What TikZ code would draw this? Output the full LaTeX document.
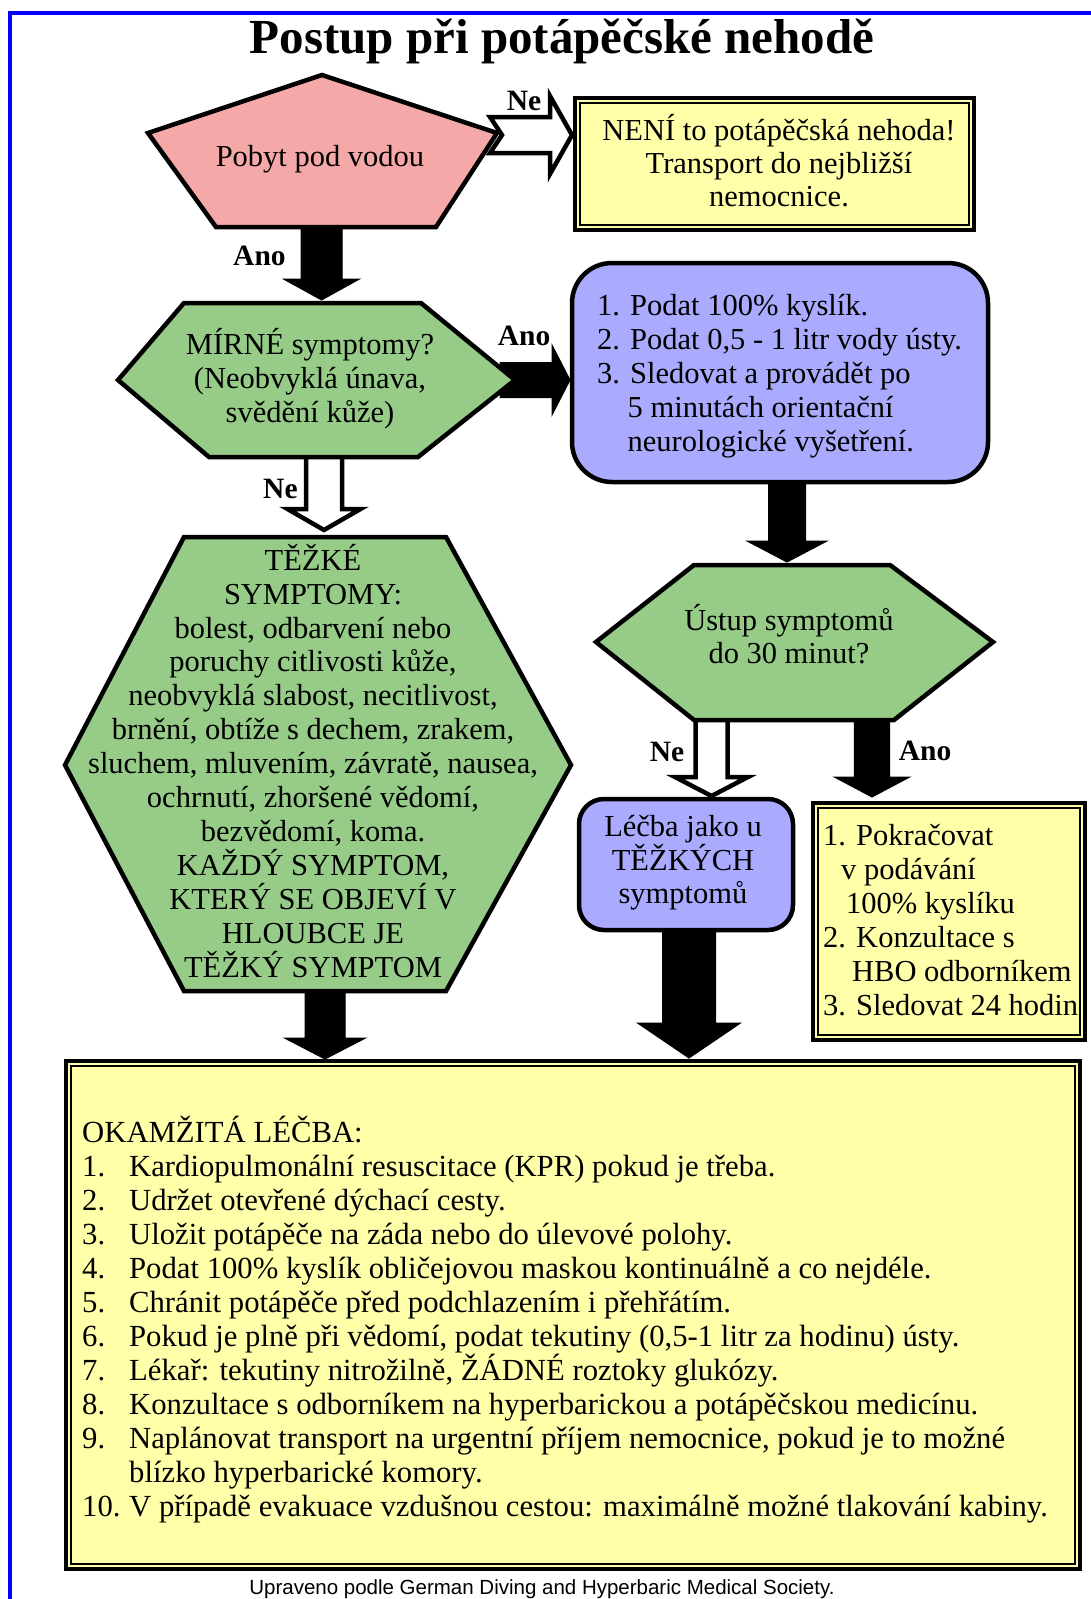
\documentclass[tikz,border=0pt]{standalone}
\usepackage{fontspec}
\setmainfont{Liberation Serif}
\newfontfamily\footfont{Liberation Sans}
\usetikzlibrary{calc}
\definecolor{pinkfill}{RGB}{245,168,168}
\definecolor{greenfill}{RGB}{150,204,135}
\definecolor{lavfill}{RGB}{170,170,255}
\definecolor{yelfill}{RGB}{255,255,170}
\definecolor{framblue}{RGB}{0,0,255}
% vertical block arrow: style, start (y of shaft top), end (tip), shaft half, head half, head length
\newcommand\vblock[6]{\path[#1] let \p1=(#2), \p2=(#3) in (\x2-#4,\y1) -- (\x2+#4,\y1) -- (\x2+#4,\y2+#6) -- (\x2+#5,\y2+#6) -- (\x2,\y2) -- (\x2-#5,\y2+#6) -- (\x2-#4,\y2+#6) -- cycle;}
% horizontal block arrow: style, start (x of tail), end (tip), shaft half, head half, head length, notch
\newcommand\hblock[7]{\path[#1] let \p1=(#2), \p2=(#3) in (\x1,\y2+#4) -- (\x2-#6,\y2+#4) -- (\x2-#6,\y2+#5) -- (\x2,\y2) -- (\x2-#6,\y2-#5) -- (\x2-#6,\y2-#4) -- (\x1,\y2-#4) -- (\x1+#7,\y2) -- cycle;}
\newcommand\yelbox[2]{\fill[yelfill] (#1) rectangle (#2);
  \draw[line width=4pt] (#1) rectangle (#2);
  \draw[line width=1.3pt] ($(#1)+(5pt,-5pt)$) rectangle ($(#2)+(-5pt,5pt)$);}
\newcommand\tp{\rule{0pt}{28pt}}
\begin{document}
\begin{tikzpicture}[x=1pt,y=-1pt,
  body/.style={font=\fontsize{30.5}{34}\selectfont, inner sep=0pt},
  lbl/.style={font=\bfseries\fontsize{29.5}{34}\selectfont, inner sep=0pt, anchor=base west},
  outline/.style={draw=black, line width=4.5pt, line join=miter},
  solidarrow/.style={fill=black, draw=black, line width=1pt, line join=miter},
  hollowarrow/.style={fill=white, draw=black, line width=4.5pt, line join=miter},
]
\useasboundingbox (0,0) rectangle (1091,1599);
\fill[white] (0,0) rectangle (1091,1599);
\fill[framblue] (8,11) rectangle (1091,15);
\fill[framblue] (8,11) rectangle (12,1599);

% connector end points
\coordinate (neTail) at (490,135);   \coordinate (neTip) at (572,135);
\coordinate (anoAStart) at (321.5,220); \coordinate (anoATip) at (321.5,300);
\coordinate (anoBTail) at (500,380); \coordinate (anoBTip) at (570,380);
\coordinate (neBStart) at (324,452); \coordinate (neBTip) at (324,530);
\coordinate (downCStart) at (787,478); \coordinate (downCTip) at (787,562);
\coordinate (neDStart) at (711.5,715); \coordinate (neDTip) at (711.5,796);
\coordinate (anoEStart) at (872,715); \coordinate (anoETip) at (872,797);
\coordinate (downFStart) at (325,985); \coordinate (downFTip) at (325,1059);
\coordinate (downGStart) at (689,925); \coordinate (downGTip) at (689,1058);

% connectors (block arrows)
\hblock{hollowarrow}{neTail}{neTip}{18pt}{39pt}{22pt}{12pt}
\vblock{solidarrow}{anoAStart}{anoATip}{20.5pt}{38pt}{21pt}
\hblock{solidarrow}{anoBTail}{anoBTip}{17.5pt}{35pt}{18pt}{0pt}
\vblock{hollowarrow}{neBStart}{neBTip}{18pt}{36.5pt}{21pt}
\vblock{solidarrow}{downCStart}{downCTip}{18.5pt}{40pt}{21pt}
\vblock{hollowarrow}{neDStart}{neDTip}{16pt}{36.5pt}{19pt}
\vblock{solidarrow}{anoEStart}{anoETip}{17.7pt}{37.7pt}{20pt}
\vblock{solidarrow}{downFStart}{downFTip}{20pt}{40.5pt}{21pt}
\vblock{solidarrow}{downGStart}{downGTip}{26.5pt}{51.5pt}{35pt}

% shapes
\path[outline, fill=pinkfill] (322,75) -- (497,133) -- (436,227) -- (216,227) -- (148,133) -- cycle;
\path[outline, fill=greenfill] (184,303) -- (421,303) -- (515,380) -- (418,457) -- (209,457) -- (118,380) -- cycle;
\path[outline, fill=greenfill] (184,537) -- (446,537) -- (571,765) -- (446,991) -- (184,991) -- (65,765) -- cycle;
\path[outline, fill=greenfill] (694,565) -- (890,565) -- (993,642) -- (894,720) -- (694,720) -- (596,642) -- cycle;
\path[outline, fill=lavfill, rounded corners=40pt] (572,263) rectangle (988,482);
\path[outline, fill=lavfill, rounded corners=25pt] (579,799) rectangle (793,930);
\yelbox{575,98}{974,230}
\yelbox{813,803}{1085,1040}
\yelbox{66,1061}{1080,1569}

% title
\node[font=\bfseries\fontsize{49}{55}\selectfont, anchor=base, inner sep=0pt] (title) at (562,53) {Postup při potápěčské nehodě};

% texts
\node[body, anchor=base] (pobyt) at (320,166.7) {Pobyt pod vodou};
\node[body, anchor=north, align=center, font=\fontsize{30.5}{33.3}\selectfont] (neni) at (779,112) {\tp NENÍ to potápěčská nehoda!\\Transport do nejbližší\\nemocnice.};
\node[body, anchor=north west, align=left] (kyslik) at (597,287) {\tp 1. Podat 100\% kyslík.\\2. Podat 0,5 - 1 litr vody ústy.\\3. Sledovat a provádět po\\\hphantom{3.}\ 5 minutách orientační\\\hphantom{3.}\ neurologické vyšetření.};
\node[body, anchor=north, align=center] (mirne) at (310,326) {\tp MÍRNÉ symptomy?\\(Neobvyklá únava,\\svědění kůže)};
\node[body, anchor=north, align=center, font=\fontsize{30.5}{33.9}\selectfont] (tezke) at (313,542) {\tp TĚŽKÉ\\SYMPTOMY:\\bolest, odbarvení nebo\\poruchy citlivosti kůže,\\neobvyklá slabost, necitlivost,\\brnění, obtíže s dechem, zrakem,\\sluchem, mluvením, závratě, nausea,\\ochrnutí, zhoršené vědomí,\\bezvědomí, koma.\\KAŽDÝ SYMPTOM,\\KTERÝ SE OBJEVÍ V\\HLOUBCE JE\\TĚŽKÝ SYMPTOM};
\node[body, anchor=north, align=center, font=\fontsize{30.5}{33}\selectfont] (ustup) at (789,602) {\tp Ústup symptomů\\do 30 minut?};
\node[body, anchor=north, align=center, font=\fontsize{30.5}{33.3}\selectfont] (lecba) at (683,808.7) {\tp Léčba jako u\\TĚŽKÝCH\\symptomů};
\node[body, anchor=north west, align=left] (pokracovat) at (823,817) {\tp 1. Pokračovat\\\hspace*{18pt}v podávání\\\hspace*{23pt}100\% kyslíku\\2. Konzultace s\\\hspace*{29pt}HBO odborníkem\\3. Sledovat 24 hodin};
\node[body, anchor=north west, align=left, font=\fontsize{30.7}{34}\selectfont] (okamzita) at (82,1114) {\tp OKAMŽITÁ LÉČBA:\\
\makebox[47pt][l]{1.}Kardiopulmonální resuscitace (KPR) pokud je třeba.\\
\makebox[47pt][l]{2.}Udržet otevřené dýchací cesty.\\
\makebox[47pt][l]{3.}Uložit potápěče na záda nebo do úlevové polohy.\\
\makebox[47pt][l]{4.}Podat 100\% kyslík obličejovou maskou kontinuálně a co nejdéle.\\
\makebox[47pt][l]{5.}Chránit potápěče před podchlazením i přehřátím.\\
\makebox[47pt][l]{6.}Pokud je plně při vědomí, podat tekutiny (0,5-1 litr za hodinu) ústy.\\
\makebox[47pt][l]{7.}Lékař: tekutiny nitrožilně, ŽÁDNÉ roztoky glukózy.\\
\makebox[47pt][l]{8.}Konzultace s odborníkem na hyperbarickou a potápěčskou medicínu.\\
\makebox[47pt][l]{9.}Naplánovat transport na urgentní příjem nemocnice, pokud je to možné\\
\makebox[47pt][l]{}blízko hyperbarické komory.\\
\makebox[47pt][l]{10.}V případě evakuace vzdušnou cestou: maximálně možné tlakování kabiny.};

% labels
\node[lbl] (lblNe1) at (506.6,110) {Ne};
\node[lbl] (lblAno1) at (233,265) {Ano};
\node[lbl] (lblAno2) at (497.6,345) {Ano};
\node[lbl] (lblNe2) at (263,498) {Ne};
\node[lbl] (lblNe3) at (649.7,761) {Ne};
\node[lbl] (lblAno3) at (898.6,760) {Ano};

% footer
\node[font=\footfont\fontsize{20.5}{24}\selectfont, anchor=base, inner sep=0pt] (footer) at (542,1594) {Upraveno podle German Diving and Hyperbaric Medical Society.};
\end{tikzpicture}
\end{document}
